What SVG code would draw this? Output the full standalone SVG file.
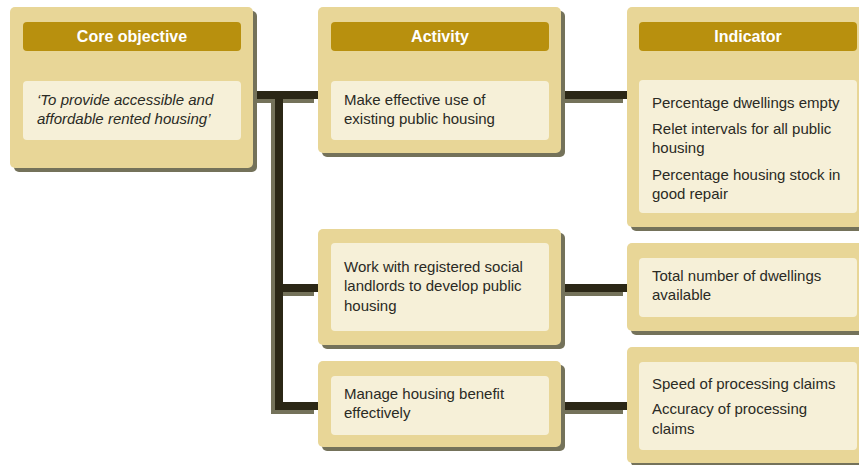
<svg xmlns="http://www.w3.org/2000/svg" width="859" height="465" viewBox="0 0 859 465">
<style>
.sh{fill:#74725a}
.box{fill:#e8d697}
.hdr{fill:#b8900e}
.inn{fill:#f6f0d8}
.ht{font-family:"Liberation Sans",Arial,sans-serif;font-size:16px;font-weight:bold;fill:#ffffff;text-anchor:middle}
.t{font-family:"Liberation Sans",Arial,sans-serif;font-size:15px;fill:#2a2a24}
.it{font-style:italic}
.cs{fill:none;stroke:#74725a;stroke-width:8}
.c{fill:none;stroke:#2b2716;stroke-width:8}
</style>
<rect width="859" height="465" fill="#ffffff"/>
<g id="connectors">
<path class="cs" d="M249,99 H314 M275,95 V414 M275,292 H314 M275,410 H314 M557,99 H623 M557,292 H623 M557,410 H623"/>
<path class="c" d="M253,95 H318 M279,95 V410 M279,288 H318 M279,406 H318 M561,95 H627 M561,288 H627 M561,406 H627"/>
</g>
<g id="core">
<rect class="sh" x="14" y="11" width="243" height="161" rx="5"/>
<rect class="box" x="10" y="7" width="243" height="161" rx="5"/>
<rect class="hdr" x="23" y="22" width="218" height="29" rx="4"/>
<text class="ht" x="132" y="42">Core objective</text>
<rect class="inn" x="23" y="81" width="218" height="59" rx="4"/>
<text class="t it" x="37" y="105">‘To provide accessible and</text>
<text class="t it" x="37" y="124">affordable rented housing’</text>
</g>
<g id="activity1">
<rect class="sh" x="322" y="11" width="243" height="146" rx="5"/>
<rect class="box" x="318" y="7" width="243" height="146" rx="5"/>
<rect class="hdr" x="331" y="22" width="218" height="29" rx="4"/>
<text class="ht" x="440" y="42">Activity</text>
<rect class="inn" x="331" y="81" width="218" height="59" rx="4"/>
<text class="t" x="344" y="105">Make effective use of</text>
<text class="t" x="344" y="124">existing public housing</text>
</g>
<g id="indicator1">
<rect class="sh" x="631" y="11" width="243" height="220" rx="5"/>
<rect class="box" x="627" y="7" width="243" height="220" rx="5"/>
<rect class="hdr" x="639" y="22" width="218" height="29" rx="4"/>
<text class="ht" x="748" y="42">Indicator</text>
<rect class="inn" x="639" y="80" width="218" height="133" rx="4"/>
<text class="t" x="652" y="108">Percentage dwellings empty</text>
<text class="t" x="652" y="134">Relet intervals for all public</text>
<text class="t" x="652" y="153">housing</text>
<text class="t" x="652" y="180">Percentage housing stock in</text>
<text class="t" x="652" y="199">good repair</text>
</g>
<g id="activity2">
<rect class="sh" x="322" y="233" width="243" height="116" rx="5"/>
<rect class="box" x="318" y="229" width="243" height="116" rx="5"/>
<rect class="inn" x="331" y="243" width="218" height="88" rx="4"/>
<text class="t" x="344" y="272">Work with registered social</text>
<text class="t" x="344" y="291">landlords to develop public</text>
<text class="t" x="344" y="311">housing</text>
</g>
<g id="indicator2">
<rect class="sh" x="631" y="247" width="243" height="88" rx="5"/>
<rect class="box" x="627" y="243" width="243" height="88" rx="5"/>
<rect class="inn" x="639" y="258" width="218" height="59" rx="4"/>
<text class="t" x="652" y="281">Total number of dwellings</text>
<text class="t" x="652" y="300">available</text>
</g>
<g id="activity3">
<rect class="sh" x="322" y="365" width="243" height="86" rx="5"/>
<rect class="box" x="318" y="361" width="243" height="86" rx="5"/>
<rect class="inn" x="331" y="376" width="218" height="59" rx="4"/>
<text class="t" x="344" y="399">Manage housing benefit</text>
<text class="t" x="344" y="418">effectively</text>
</g>
<g id="indicator3">
<rect class="sh" x="631" y="351" width="243" height="116" rx="5"/>
<rect class="box" x="627" y="347" width="243" height="116" rx="5"/>
<rect class="inn" x="639" y="362" width="218" height="88" rx="4"/>
<text class="t" x="652" y="389">Speed of processing claims</text>
<text class="t" x="652" y="414">Accuracy of processing</text>
<text class="t" x="652" y="434">claims</text>
</g>
</svg>
